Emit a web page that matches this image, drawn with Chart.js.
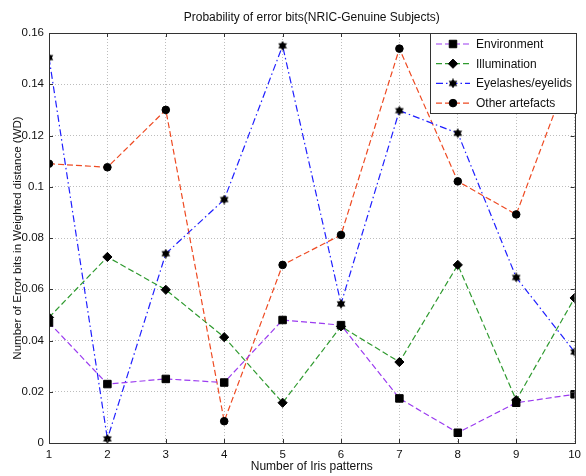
<!DOCTYPE html>
<html>
<head>
<meta charset="utf-8">
<script src="https://cdn.jsdelivr.net/npm/chart.js@4/dist/chart.umd.min.js"></script>
<style>
html,body{margin:0;padding:0;background:#fff;}
#wrap{width:586px;height:476px;}
</style>
</head>
<body>
<div id="wrap"><canvas id="c" width="586" height="476"></canvas></div>
<script>
const irisPatterns = [1,2,3,4,5,6,7,8,9,10];
const environment = [0.047,0.023,0.025,0.0236,0.048,0.046,0.0174,0.004,0.0157,0.019];
const illumination = [0.049,0.0726,0.0598,0.0413,0.0157,0.0455,0.0316,0.0695,0.0167,0.0566];
const eyelashes = [0.1504,0.0016,0.0739,0.095,0.155,0.0543,0.1297,0.1209,0.0646,0.0355];
const otherArtefacts = [0.109,0.1076,0.130,0.0085,0.0695,0.0812,0.1539,0.1021,0.0892,0.1499];
const seriesNames = ["Environment","Illumination","Eyelashes/eyelids","Other artefacts"];
const yTicks = [0,0.02,0.04,0.06,0.08,0.1,0.12,0.14,0.16];

const FONT = "'Liberation Sans', Arial, sans-serif";

// hexagram marker
function makeHexagram(size){
  const c = document.createElement('canvas');
  c.width = size; c.height = size;
  const g = c.getContext('2d');
  const cx = size/2, cy = size/2, r = size/2;
  g.fillStyle = '#000';
  for (const off of [-Math.PI/2, Math.PI/2]) {
    g.beginPath();
    for (let i=0;i<3;i++){
      const a = off + i*2*Math.PI/3;
      const px = cx + r*Math.cos(a), py = cy + r*Math.sin(a);
      if(i===0) g.moveTo(px,py); else g.lineTo(px,py);
    }
    g.closePath(); g.fill();
  }
  return c;
}
const hexagram = makeHexagram(10);

function pts(arr){ return arr.map((v,i)=>({x:irisPatterns[i], y:v})); }

const styles = [
  {color:'#9b3cf0', dash:[6,3], marker:'rect', radius:5.3},
  {color:'#2f9a2f', dash:[6,3], marker:'rectRot', radius:4.6},
  {color:'#1f1fff', dash:[7,3,1.5,3], marker:hexagram, radius:5},
  {color:'#ee4a22', dash:[6,3], marker:'circle', radius:3.8}
];
const seriesData = [environment, illumination, eyelashes, otherArtefacts];

const datasets = seriesData.map((d,i)=>({
  label: seriesNames[i],
  data: pts(d),
  borderColor: styles[i].color,
  borderWidth: 1.2,
  borderDash: styles[i].dash,
  pointStyle: styles[i].marker,
  pointRadius: styles[i].radius,
  pointHoverRadius: styles[i].radius,
  pointBackgroundColor: '#000',
  pointBorderColor: '#000',
  pointBorderWidth: 1,
  tension: 0,
  fill: false
}));

const framePlugin = {
  id: 'frame',
  afterDraw(chart){
    const {ctx, chartArea:a, scales} = chart;
    ctx.save();
    ctx.strokeStyle = '#333';
    ctx.lineWidth = 1;
    ctx.setLineDash([]);
    ctx.strokeRect(Math.round(a.left)+0.5, Math.round(a.top)+0.5, Math.round(a.right-a.left), Math.round(a.bottom-a.top));
    // inward ticks
    ctx.beginPath();
    const tl = 4;
    for (const v of irisPatterns){
      const x = Math.round(scales.x.getPixelForValue(v))+0.5;
      ctx.moveTo(x,a.bottom); ctx.lineTo(x,a.bottom-tl);
      ctx.moveTo(x,a.top); ctx.lineTo(x,a.top+tl);
    }
    for (const v of yTicks){
      const y = Math.round(scales.y.getPixelForValue(v))+0.5;
      ctx.moveTo(a.left,y); ctx.lineTo(a.left+tl,y);
      ctx.moveTo(a.right,y); ctx.lineTo(a.right-tl,y);
    }
    ctx.stroke();

    // legend box
    const bx = 430.5, by = 33.5, bw = 146, bh = 80;
    ctx.fillStyle = '#fff';
    ctx.fillRect(bx,by,bw,bh);
    ctx.strokeStyle = '#333';
    ctx.strokeRect(bx,by,bw,bh);
    ctx.font = '12px ' + FONT;
    ctx.textBaseline = 'middle';
    ctx.textAlign = 'left';
    chart.data.datasets.forEach((ds,i)=>{
      const y = 44 + i*19.7;
      ctx.save();
      ctx.strokeStyle = ds.borderColor;
      ctx.lineWidth = 1.2;
      ctx.setLineDash(ds.borderDash);
      ctx.beginPath(); ctx.moveTo(436,y); ctx.lineTo(470,y); ctx.stroke();
      ctx.restore();
      ctx.save();
      ctx.fillStyle = '#000'; ctx.strokeStyle = '#000'; ctx.lineWidth = 1;
      Chart.helpers.drawPoint(ctx, {pointStyle: ds.pointStyle, radius: ds.pointRadius, rotation: 0, borderWidth: 1}, 453, y);
      ctx.restore();
      ctx.fillStyle = '#111';
      ctx.fillText(ds.label, 476, y+0.5);
    });
    ctx.restore();
  }
};

new Chart(document.getElementById('c'), {
  type: 'line',
  data: { datasets },
  options: {
    responsive: false,
    animation: false,
    events: [],
    layout: { padding: { left: 0, right: 7, top: 0, bottom: 0 } },
    plugins: {
      legend: { display: false },
      tooltip: { enabled: false },
      title: {
        display: true,
        fullSize: false,
        text: 'Probability of error bits(NRIC-Genuine Subjects)',
        color: '#111',
        font: { family: FONT, size: 12, weight: 'normal' },
        padding: { top: 10, bottom: 8.6 }
      }
    },
    scales: {
      x: {
        type: 'linear',
        min: 1, max: 10,
        afterFit(s){ s.height = 33; },
        ticks: { stepSize: 1, color: '#111', padding: 5, font: { family: FONT, size: 11.5 } },
        grid: { color: '#bdbdbd', drawTicks: false, tickLength: 0, lineWidth: 1 },
        border: { display: false, dash: [1,2] },
        title: { display: true, text: 'Number of Iris patterns', color: '#111', font: { family: FONT, size: 12 }, padding: { top: 0, bottom: 2 } }
      },
      y: {
        type: 'linear',
        min: 0, max: 0.16,
        afterFit(s){ s.width = 49; },
        afterBuildTicks(s){ s.ticks = yTicks.map(v=>({value:v})); },
        ticks: { color: '#111', padding: 5, font: { family: FONT, size: 11.5 },
          callback: v => String(Number(v.toFixed(2))) },
        grid: { color: '#bdbdbd', drawTicks: false, tickLength: 0, lineWidth: 1 },
        border: { display: false, dash: [1,2] },
        title: { display: true, text: 'Number of Error bits in Weighted distance (WD)', color: '#111', font: { family: FONT, size: 11.5 }, padding: { top: 11, bottom: 0 } }
      }
    }
  },
  plugins: [framePlugin]
});
</script>
</body>
</html>
